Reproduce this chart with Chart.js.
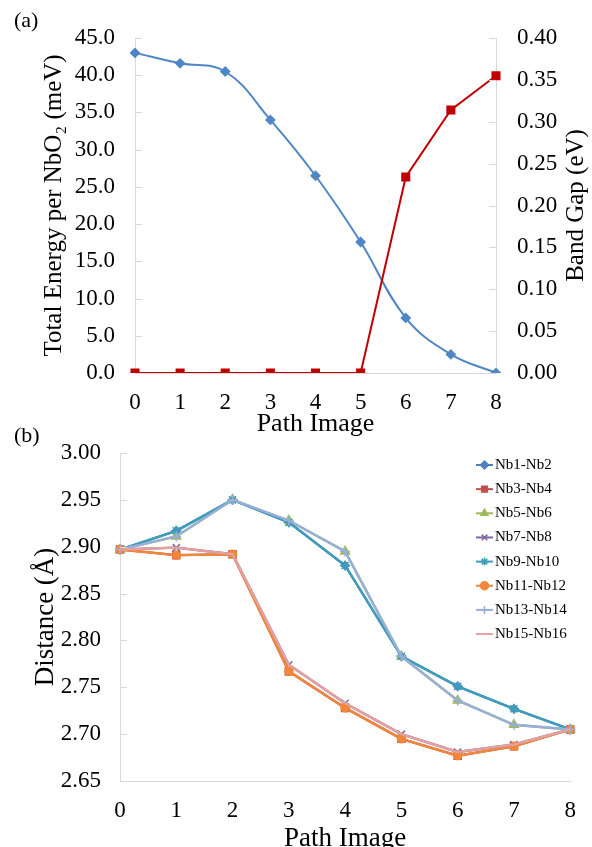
<!DOCTYPE html>
<html>
<head>
<meta charset="utf-8">
<script src="https://cdn.jsdelivr.net/npm/chart.js@4.4.1/dist/chart.umd.min.js"></script>
<style>
  html, body { margin: 0; padding: 0; background: #fff; overflow: hidden; }
  #wrapA { position: absolute; left: 0; top: 0; width: 592px; height: 445px; }
  #wrapB { position: absolute; left: 0; top: 415px; width: 592px; height: 440px; }
</style>
</head>
<body>
<div id="wrapA"><canvas id="chartA" width="592" height="445"></canvas></div>
<div id="wrapB"><canvas id="chartB" width="592" height="440"></canvas></div>
<script>
// Path images along the x axis (both panels)
var pathImages = ['0', '1', '2', '3', '4', '5', '6', '7', '8'];

// Panel (a)
var totalEnergy = [43.0, 41.6, 40.5, 34.0, 26.5, 17.6, 7.4, 2.5, 0.0];   // meV
var bandGap = [0, 0, 0, 0, 0, 0, 0.234, 0.314, 0.355];                    // eV
var energyTicks = [0, 5, 10, 15, 20, 25, 30, 35, 40, 45];
var gapTicks = [0, 0.05, 0.10, 0.15, 0.20, 0.25, 0.30, 0.35, 0.40];

// Panel (b) distances in Angstrom
var pairNames = ['Nb1-Nb2', 'Nb3-Nb4', 'Nb5-Nb6', 'Nb7-Nb8', 'Nb9-Nb10', 'Nb11-Nb12', 'Nb13-Nb14', 'Nb15-Nb16'];
var nb1nb2 = [2.897, 2.917, 2.950, 2.926, 2.880, 2.783, 2.751, 2.727, 2.705];
var nb3nb4 = [2.897, 2.891, 2.892, 2.767, 2.728, 2.695, 2.677, 2.687, 2.705];
var nb5nb6 = [2.897, 2.911, 2.950, 2.928, 2.895, 2.783, 2.736, 2.710, 2.705];
var nb7nb8 = [2.897, 2.899, 2.892, 2.774, 2.733, 2.700, 2.681, 2.689, 2.705];
var nb9nb10 = [2.897, 2.917, 2.950, 2.926, 2.880, 2.783, 2.751, 2.727, 2.705];
var nb11nb12 = [2.897, 2.891, 2.892, 2.767, 2.728, 2.695, 2.677, 2.687, 2.705];
var nb13nb14 = [2.897, 2.911, 2.950, 2.928, 2.895, 2.783, 2.736, 2.710, 2.705];
var nb15nb16 = [2.897, 2.899, 2.892, 2.774, 2.733, 2.700, 2.681, 2.689, 2.705];
var distTicks = [2.65, 2.70, 2.75, 2.80, 2.85, 2.90, 2.95, 3.00];

var pairData = [nb1nb2, nb3nb4, nb5nb6, nb7nb8, nb9nb10, nb11nb12, nb13nb14, nb15nb16];
var pairColors = ['#4F81BD', '#C0504D', '#9BBB59', '#8064A2', '#3E9DBB', '#F0873A', '#98AFDA', '#E3A2A0'];
var pairMarkers = ['rectRot', 'rect', 'triangle', 'crossRot', 'star', 'circle', 'cross', false];
var pairRadius = [4, 5, 5, 5, 5, 4, 5, 0];

var serif = "'Liberation Serif', 'Times New Roman', serif";
var axisGrey = '#D9D9D9';

function setTicks(values) {
    return function (scale) {
        scale.ticks = values.map(function (v) { return { value: v }; });
    };
}
function fixWidth(w) { return function (scale) { scale.width = w; }; }
function fixHeight(h) { return function (scale) { scale.height = h; }; }

// short tick marks pointing into the plot, like the original
var innerTicks = {
    id: 'innerTicks',
    afterDraw: function (chart) {
        var ctx = chart.ctx, area = chart.chartArea;
        ctx.save();
        ctx.strokeStyle = axisGrey;
        ctx.lineWidth = 1;
        Object.keys(chart.scales).forEach(function (id) {
            var s = chart.scales[id];
            if (s.isHorizontal()) return;
            var x0 = s.position === 'right' ? area.right : area.left;
            var dir = s.position === 'right' ? -1 : 1;
            s.ticks.forEach(function (t) {
                var y = Math.round(s.getPixelForValue(t.value)) + 0.5;
                ctx.beginPath();
                ctx.moveTo(x0, y);
                ctx.lineTo(x0 + dir * 7, y);
                ctx.stroke();
            });
        });
        ctx.restore();
    }
};

// panel letter and the right axis title (reads bottom to top)
var extraText = {
    id: 'extraText',
    afterDraw: function (chart, args, opts) {
        var ctx = chart.ctx;
        ctx.save();
        ctx.fillStyle = '#000';
        ctx.font = '22px ' + serif;
        ctx.textAlign = 'left';
        ctx.textBaseline = 'middle';
        ctx.fillText(opts.letter, opts.letterX, opts.letterY);
        if (opts.rightTitle) {
            var a = chart.chartArea;
            ctx.translate(opts.rightTitleX, (a.top + a.bottom) / 2);
            ctx.rotate(-Math.PI / 2);
            ctx.textAlign = 'center';
            ctx.font = '25px ' + serif;
            ctx.fillText(opts.rightTitle, 0, 0);
        }
        ctx.restore();
    }
};

// Excel-like legend: line segment with marker, then label
var lineLegend = {
    id: 'lineLegend',
    afterDraw: function (chart, args, opts) {
        var ctx = chart.ctx;
        ctx.save();
        ctx.font = '15px ' + serif;
        ctx.textAlign = 'left';
        ctx.textBaseline = 'middle';
        chart.data.datasets.forEach(function (ds, i) {
            var y = opts.y + i * opts.step;
            ctx.strokeStyle = ds.borderColor;
            ctx.lineWidth = 2;
            ctx.beginPath();
            ctx.moveTo(opts.x, y);
            ctx.lineTo(opts.x + 17, y);
            ctx.stroke();
            if (ds.pointStyle && Chart.helpers && Chart.helpers.drawPoint) {
                ctx.fillStyle = ds.borderColor;
                ctx.lineWidth = 1.5;
                Chart.helpers.drawPoint(ctx, { pointStyle: ds.pointStyle, radius: Math.min(ds.pointRadius, 4), rotation: 0, borderWidth: 1.5 }, opts.x + 8.5, y);
            }
            ctx.fillStyle = '#000';
            ctx.fillText(ds.label, opts.x + 19, y);
        });
        ctx.restore();
    }
};

var tickFont = { family: serif, size: 23 };
var titleFont = { family: serif, size: 26, lineHeight: 1.2 };

new Chart(document.getElementById('chartA').getContext('2d'), {
    type: 'line',
    data: {
        labels: pathImages,
        datasets: [
            {
                label: 'Total Energy',
                data: totalEnergy,
                yAxisID: 'y',
                borderColor: '#4F86C6',
                backgroundColor: '#4F86C6',
                borderWidth: 2,
                tension: 0.4,
                pointStyle: 'rectRot',
                pointRadius: 4,
                order: 2
            },
            {
                label: 'Band Gap',
                data: bandGap,
                yAxisID: 'y1',
                borderColor: '#C00000',
                backgroundColor: '#C00000',
                borderWidth: 2,
                tension: 0,
                pointStyle: 'rect',
                pointRadius: 5,
                order: 1
            }
        ]
    },
    options: {
        responsive: false,
        animation: false,
        layout: { padding: { top: 38, left: 0, right: 0, bottom: 0 } },
        plugins: {
            legend: { display: false },
            tooltip: { enabled: false },
            extraText: { letter: '(a)', letterX: 14, letterY: 21, rightTitle: 'Band Gap (eV)', rightTitleX: 576 }
        },
        scales: {
            x: {
                offset: false,
                grid: { drawOnChartArea: false, drawTicks: false },
                border: { color: axisGrey },
                ticks: { font: tickFont, color: '#000', padding: 16, maxRotation: 0 },
                title: { display: true, text: 'Path Image', font: titleFont, color: '#000', padding: { top: 0, bottom: 5 } },
                afterFit: fixHeight(72)
            },
            y: {
                position: 'left',
                min: 0, max: 45,
                afterBuildTicks: setTicks(energyTicks),
                grid: { drawOnChartArea: false, drawTicks: false },
                border: { color: axisGrey },
                ticks: { font: tickFont, color: '#000', padding: 20, callback: function (v) { return v.toFixed(1); } },
                title: { display: true, text: 'Total Energy per NbO\u2082 (meV)', font: { family: serif, size: 25, lineHeight: 1.2 }, color: '#000', padding: { top: 39, bottom: 0 } },
                afterFit: fixWidth(135)
            },
            y1: {
                position: 'right',
                min: 0, max: 0.4,
                afterBuildTicks: setTicks(gapTicks),
                grid: { drawOnChartArea: false, drawTicks: false },
                border: { color: axisGrey },
                ticks: { font: tickFont, color: '#000', padding: 21, callback: function (v) { return v.toFixed(2); } },
                afterFit: fixWidth(96)
            }
        }
    },
    plugins: [innerTicks, extraText]
});

var pairSets = pairNames.map(function (name, i) {
    return {
        label: name,
        data: pairData[i],
        borderColor: pairColors[i],
        backgroundColor: pairColors[i],
        borderWidth: 2.4,
        tension: 0,
        pointStyle: pairMarkers[i],
        pointRadius: pairRadius[i],
        pointBorderWidth: 1.5,
        order: pairNames.length - i
    };
});

new Chart(document.getElementById('chartB').getContext('2d'), {
    type: 'line',
    data: { labels: pathImages, datasets: pairSets },
    options: {
        responsive: false,
        animation: false,
        layout: { padding: { top: 38, left: 0, right: 19, bottom: 0 } },
        plugins: {
            legend: { display: false },
            tooltip: { enabled: false },
            extraText: { letter: '(b)', letterX: 14, letterY: 21 },
            lineLegend: { x: 476, y: 50, step: 24.15 }
        },
        scales: {
            x: {
                offset: false,
                grid: { drawOnChartArea: false, drawTicks: false },
                border: { color: axisGrey },
                ticks: { font: tickFont, color: '#000', padding: 16, maxRotation: 0 },
                title: { display: true, text: 'Path Image', font: { family: serif, size: 27, lineHeight: 1.2 }, color: '#000', padding: { top: 0, bottom: 0 } },
                afterFit: fixHeight(74)
            },
            y: {
                min: 2.65, max: 3.0,
                afterBuildTicks: setTicks(distTicks),
                grid: { drawOnChartArea: false, drawTicks: false },
                border: { color: axisGrey },
                ticks: { font: tickFont, color: '#000', padding: 19, callback: function (v) { return v.toFixed(2); } },
                title: { display: true, text: 'Distance (\u00C5)', font: { family: serif, size: 27, lineHeight: 1.2 }, color: '#000', padding: { top: 30, bottom: 0 } },
                afterFit: fixWidth(120)
            }
        }
    },
    plugins: [innerTicks, extraText, lineLegend]
});
</script>
</body>
</html>
